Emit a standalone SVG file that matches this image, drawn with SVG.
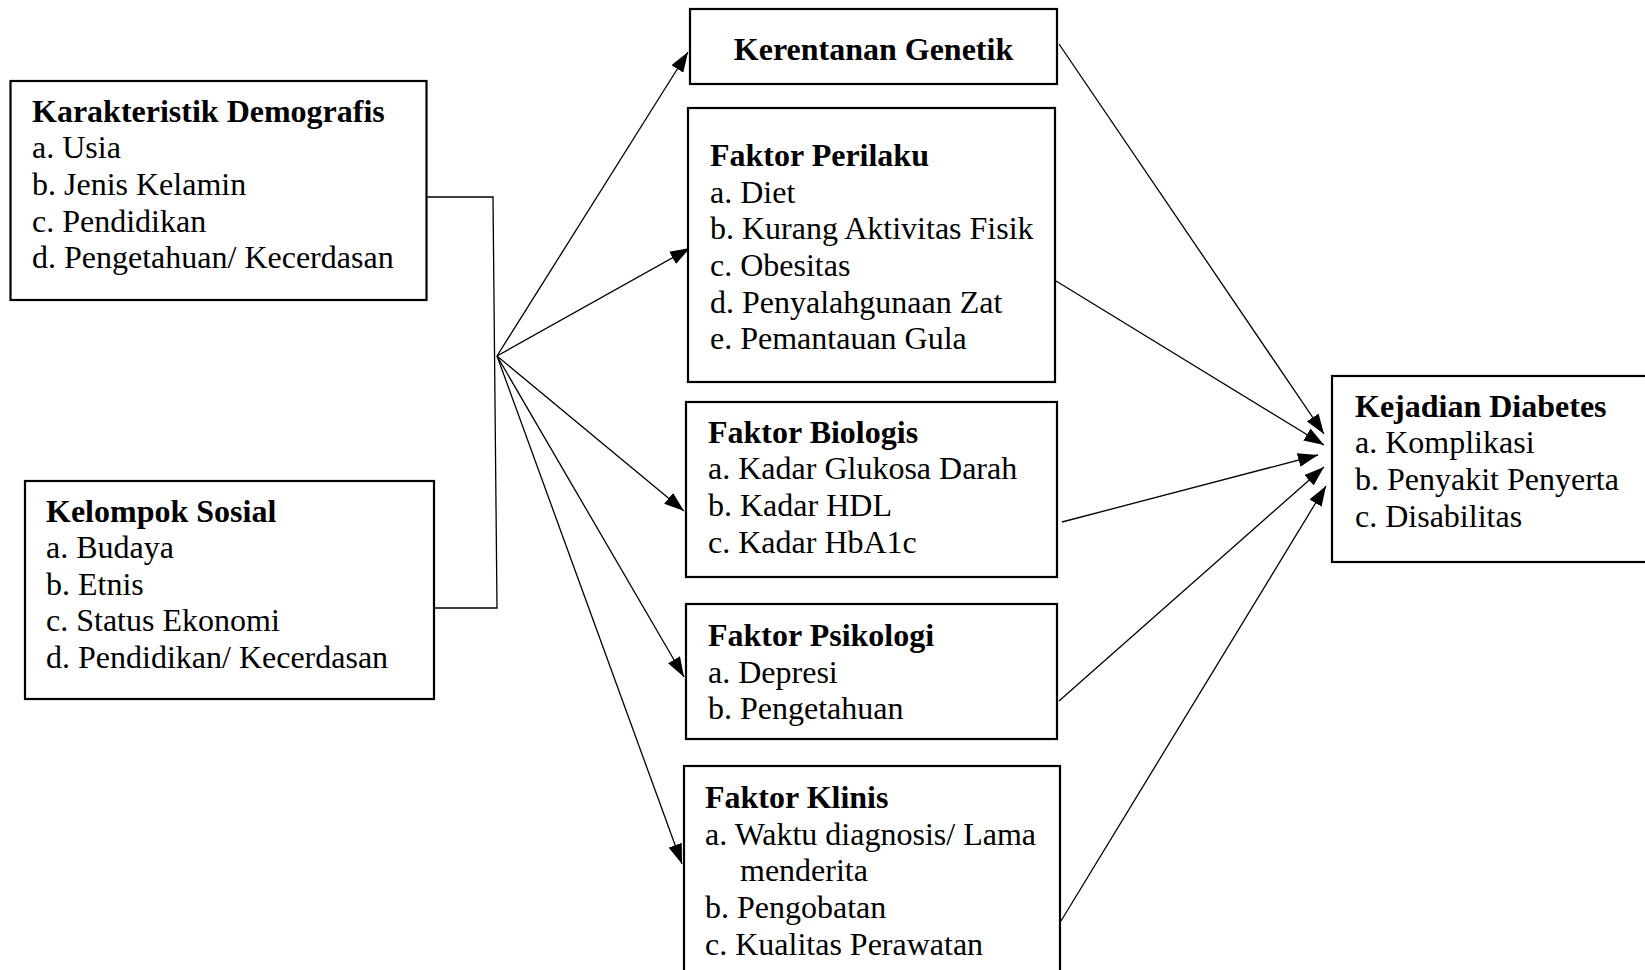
<svg xmlns="http://www.w3.org/2000/svg" width="1645" height="970" viewBox="0 0 1645 970">
<defs>
<style>
.box{fill:#fff;stroke:#000;stroke-width:2.2}
.t{font-family:"Liberation Serif","Times New Roman",serif;font-size:32px;fill:#000}
.b{font-weight:bold}
.c{fill:none;stroke:#000;stroke-width:1.3}
.a{fill:none;stroke:#000;stroke-width:1.3;marker-end:url(#ah)}
</style>
<marker id="ah" markerUnits="userSpaceOnUse" markerWidth="20" markerHeight="14" refX="20" refY="7" orient="auto">
<path d="M0,0 L20,7 L0,14 z" fill="#000"/>
</marker>
</defs>
<rect width="1645" height="970" fill="#fff"/>
<g id="connectors">
<polyline class="c" points="426,197 493,197 497,608 434,608"/>
<line class="a" x1="497" y1="356" x2="688" y2="52"/>
<line class="a" x1="497" y1="356" x2="690" y2="248"/>
<line class="a" x1="497" y1="356" x2="684" y2="511"/>
<line class="a" x1="497" y1="356" x2="684" y2="677"/>
<line class="a" x1="497" y1="356" x2="682" y2="864"/>
<line class="a" x1="1059" y1="44" x2="1324" y2="434"/>
<line class="a" x1="1056" y1="281" x2="1324" y2="445"/>
<line class="a" x1="1062" y1="522" x2="1318" y2="455"/>
<line class="a" x1="1059" y1="701" x2="1324" y2="467"/>
<line class="a" x1="1061" y1="921" x2="1326" y2="486"/>
</g>
<g id="demografis">
<rect class="box" x="10.5" y="81" width="416" height="219"/>
<text class="t b" x="32" y="121.7">Karakteristik Demografis</text>
<text class="t" x="32" y="158.3">a. Usia</text>
<text class="t" x="32" y="195">b. Jenis Kelamin</text>
<text class="t" x="32" y="231.7">c. Pendidikan</text>
<text class="t" x="32" y="268.3">d. Pengetahuan/ Kecerdasan</text>
</g>
<g id="sosial">
<rect class="box" x="25" y="481" width="409" height="218"/>
<text class="t b" x="46" y="521.5">Kelompok Sosial</text>
<text class="t" x="46" y="558">a. Budaya</text>
<text class="t" x="46" y="594.5">b. Etnis</text>
<text class="t" x="46" y="631">c. Status Ekonomi</text>
<text class="t" x="46" y="667.5">d. Pendidikan/ Kecerdasan</text>
</g>
<g id="genetik">
<rect class="box" x="690" y="9" width="367" height="75"/>
<text class="t b" x="873.5" y="60" text-anchor="middle">Kerentanan Genetik</text>
</g>
<g id="perilaku">
<rect class="box" x="688" y="108" width="367" height="274"/>
<text class="t b" x="710" y="166">Faktor Perilaku</text>
<text class="t" x="710" y="202.7">a. Diet</text>
<text class="t" x="710" y="239.4">b. Kurang Aktivitas Fisik</text>
<text class="t" x="710" y="276">c. Obesitas</text>
<text class="t" x="710" y="312.7">d. Penyalahgunaan Zat</text>
<text class="t" x="710" y="349.4">e. Pemantauan Gula</text>
</g>
<g id="biologis">
<rect class="box" x="686" y="402" width="371" height="175"/>
<text class="t b" x="708" y="442.7">Faktor Biologis</text>
<text class="t" x="708" y="479.4">a. Kadar Glukosa Darah</text>
<text class="t" x="708" y="516">b. Kadar HDL</text>
<text class="t" x="708" y="552.7">c. Kadar HbA1c</text>
</g>
<g id="psikologi">
<rect class="box" x="686" y="604" width="371" height="135"/>
<text class="t b" x="708" y="646">Faktor Psikologi</text>
<text class="t" x="708" y="682.7">a. Depresi</text>
<text class="t" x="708" y="719.4">b. Pengetahuan</text>
</g>
<g id="klinis">
<rect class="box" x="684" y="766" width="376" height="220"/>
<text class="t b" x="705" y="807.8">Faktor Klinis</text>
<text class="t" x="705" y="844.5">a. Waktu diagnosis/ Lama</text>
<text class="t" x="740" y="881">menderita</text>
<text class="t" x="705" y="917.8">b. Pengobatan</text>
<text class="t" x="705" y="954.5">c. Kualitas Perawatan</text>
</g>
<g id="diabetes">
<rect class="box" x="1332" y="376" width="330" height="186"/>
<text class="t b" x="1355" y="416.5">Kejadian Diabetes</text>
<text class="t" x="1355" y="453">a. Komplikasi</text>
<text class="t" x="1355" y="490">b. Penyakit Penyerta</text>
<text class="t" x="1355" y="526.7">c. Disabilitas</text>
</g>
</svg>
